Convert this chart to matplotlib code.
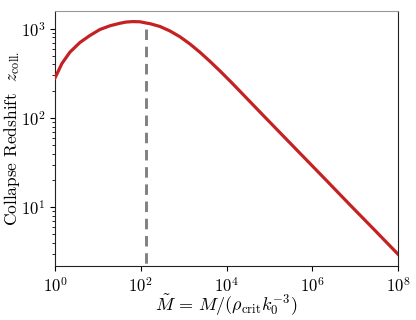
import matplotlib
matplotlib.use("Agg")
import matplotlib.pyplot as plt
from matplotlib.ticker import LogLocator, NullLocator

# values
mass = [1, 1.457, 2.238, 3.83, 6.55, 11.21, 19.18, 32.8, 45.3, 65.9, 96.0,
        132.6, 164.3, 281, 481, 823, 1408, 2409, 4123, 7053, 12067, 20648,
        60440, 176920, 518000, 1.984e6, 7.596e6, 2.908e7, 1e8]
z_coll = [279.4, 408, 547, 702, 841, 982, 1080, 1153, 1189, 1204, 1198,
          1161, 1141, 1061, 945, 813, 675, 545, 431, 336.5, 260, 199.2,
          116.5, 68.4, 40.2, 20.7, 10.6, 5.48, 2.97]
m_mark = 132
z_mark = 1000
y_range = (2.2, 1600)

plt.rcParams["font.family"] = "cmr10"
plt.rcParams["mathtext.fontset"] = "cm"
plt.rcParams["axes.formatter.use_mathtext"] = True

fig, ax = plt.subplots(figsize=(4.16, 3.2), dpi=100)
fig.subplots_adjust(left=0.132, right=0.957, top=0.967, bottom=0.169)

ax.plot(mass, z_coll, color="#c42222", lw=2.3, zorder=3)
# dashed marker, pattern starting from the top end
ax.plot([m_mark, m_mark], [z_mark, y_range[0]], color="#808080", lw=2.1,
        dashes=(3.6, 2.3), zorder=2)

ax.set_xscale("log")
ax.set_yscale("log")
ax.set_xlim(1, 1e8)
ax.set_ylim(*y_range)
ax.xaxis.set_major_locator(LogLocator(base=100))
ax.xaxis.set_minor_locator(NullLocator())

ax.set_xlabel(r"$\tilde{M}\,=\,M/(\rho_{\rm crit} k_0^{-3})$", fontsize=13, labelpad=-1)
ax.set_ylabel(r"Collapse Redshift  $z_{\rm coll.}$", fontsize=12.5)
ax.yaxis.set_label_coords(-0.097, 0.5)
ax.tick_params(labelsize=12)

for s in ax.spines.values():
    s.set_color("#222222")
ax.spines["top"].set_color("#999999")

fig.savefig("out.png", dpi=100)
